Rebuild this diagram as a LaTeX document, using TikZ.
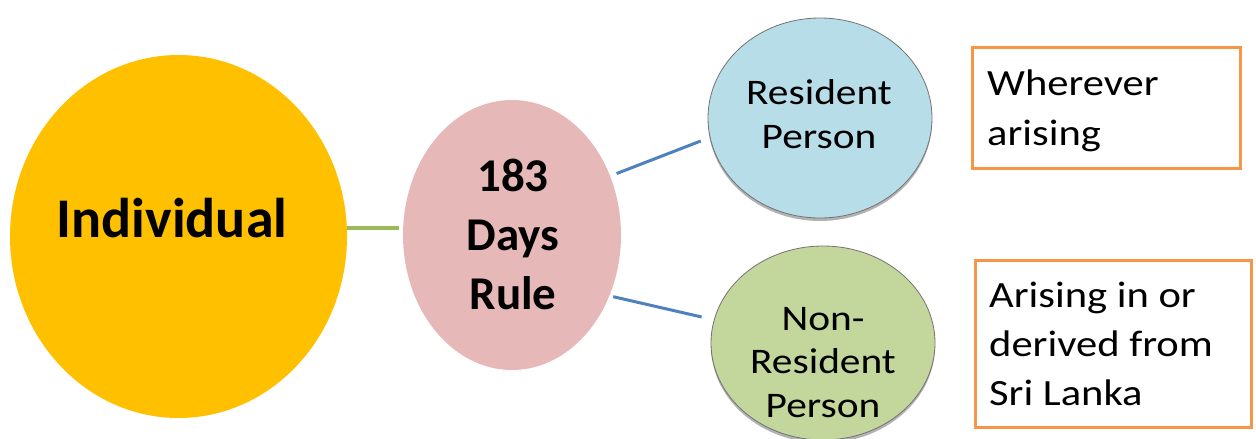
\documentclass[tikz,border=0pt]{standalone}
\usepackage{fontspec}
\setmainfont{Carlito}
\newfontfamily\widefont[FakeStretch=1.15]{Carlito}
\usetikzlibrary{shapes.geometric,shadows}

\definecolor{indyellow}{HTML}{FFC000}
\definecolor{rulepink}{HTML}{E6B9B8}
\definecolor{resblue}{HTML}{B7DDE8}
\definecolor{nonresgreen}{HTML}{C3D69B}
\definecolor{boxorange}{HTML}{F79646}
\definecolor{linkblue}{HTML}{4F81BD}
\definecolor{linkgreen}{HTML}{9BBB59}

\begin{document}
\begin{tikzpicture}[x=1pt,y=-1pt,
  bubble/.style={ellipse, inner sep=0pt, outer sep=0pt},
  outlined/.style={bubble, draw=black!55, line width=0.8pt,
    drop shadow={shadow xshift=0pt, shadow yshift=-3pt, opacity=0.3, fill=black}},
  notebox/.style={draw=boxorange, line width=3pt, fill=white, inner sep=0pt, outer sep=0pt},
  boldlabel/.style={font=\bfseries\fontsize{47}{59}\selectfont, align=center, anchor=base, inner sep=0pt},
  bubblelabel/.style={font=\widefont\fontsize{36}{43.5}\selectfont, align=center, anchor=base, inner sep=0pt},
  notelabel/.style={font=\widefont\fontsize{37}{49.5}\selectfont, align=left, anchor=base west, inner sep=0pt},
  link/.style={line width=3pt, linkblue}
]
\useasboundingbox (0,0) rectangle (1256,439);

% the four ellipses
\node[bubble, fill=indyellow, minimum width=337pt, minimum height=363pt] (indiv) at (178.5,236.5) {};
\node[bubble, fill=rulepink, minimum width=218pt, minimum height=270pt] (rule) at (512,235) {};
\node[outlined, fill=resblue, minimum width=224pt, minimum height=200pt] (res) at (820,118) {};
\node[outlined, fill=nonresgreen, minimum width=224pt, minimum height=194pt] (nonres) at (823,343) {};

% the two note boxes
\node[notebox, minimum width=268pt, minimum height=121pt] (wherever) at (1106,107.5) {};
\node[notebox, minimum width=276pt, minimum height=167pt] (srilanka) at (1113,343.5) {};

% texts (base anchor sits on the last line)
\node[boldlabel, font=\bfseries\fontsize{56}{66}\selectfont] (indiv-text) at (172,237) {Individual};
\node[boldlabel] (rule-text) at (513,309) {183\\Days\\Rule};
\node[bubblelabel] (res-text) at (819,148) {Resident\\Person};
\node[bubblelabel] (nonres-text) at (823,417) {Non-\\Resident\\Person};
\node[notelabel] (wherever-text) at (987,145) {Wherever\\arising};
\node[notelabel, font=\widefont\fontsize{37}{49}\selectfont] (srilanka-text) at (989,405) {Arising in or\\derived from\\Sri Lanka};

% connectors
\draw[linkgreen, line width=4pt, shorten >=4pt] (indiv.3) -- (indiv.3 -| rule.west);
\draw[link, shorten <=7pt, shorten >=10pt] (rule.31) -- (res.190);
\draw[link, shorten <=4pt, shorten >=13pt] (rule.-32) -- (nonres.168);
\end{tikzpicture}
\end{document}
